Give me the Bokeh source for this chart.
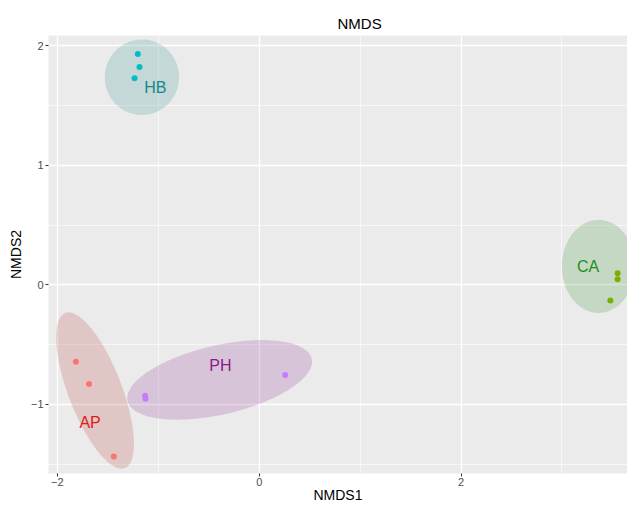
import numpy as np
from bokeh.plotting import figure
from bokeh.models import ColumnDataSource, FixedTicker
from bokeh.embed import file_html
from bokeh.resources import INLINE
from bokeh.core.properties import value

# ---- data (NMDS scores) ----
groups = ["AP", "CA", "HB", "PH"]
point_colors = ["#F8766D", "#7CAE00", "#00BFC4", "#C77CFF"]
label_colors = ["#E01B1B", "#1F8F1F", "#12898A", "#8A1A8C"]

ap_x = [-1.817, -1.686, -1.441]
ap_y = [-0.643, -0.829, -1.435]
ca_x = [3.552, 3.552, 3.480]
ca_y = [0.097, 0.046, -0.132]
hb_x = [-1.203, -1.186, -1.235]
hb_y = [1.930, 1.822, 1.727]
ph_x = [-1.130, -1.127, 0.258]
ph_y = [-0.928, -0.953, -0.754]

# group label positions
label_x = [-1.676, 3.260, -1.029, -0.385]
label_y = [-1.151, 0.150, 1.646, -0.673]

# confidence ellipses: centre and two conjugate half-axes (data units)
ell_cx = [-1.627, 3.363, -1.162, -0.392]
ell_cy = [-0.884, 0.154, 1.736, -0.795]
ell_ux = [0.294, 0.363, 0.368, 0.912]
ell_uy = [-0.649, 0.0, 0.0, 0.178]
ell_vx = [0.249, 0.0, 0.0, 0.080]
ell_vy = [0.077, 0.389, 0.316, -0.281]

x_major = [-2, 0, 2]
x_minor = [-1, 1, 3]
y_major = [-1, 0, 1, 2]
y_minor = [-1.5, -0.5, 0.5, 1.5]

FONT = "Liberation Sans"

p = figure(width=627, height=505, x_range=(-2.088, 3.65), y_range=(-1.578, 2.085),
           output_backend="svg", toolbar_location=None,
           min_border_left=48, min_border_right=0, min_border_top=35, min_border_bottom=0)
p.background_fill_color = "#EBEBEB"
p.border_fill_color = "white"
p.outline_line_color = None

p.title.text = "NMDS"
p.title.text_font = FONT
p.title.text_font_size = "15px"
p.title.text_font_style = "normal"
p.title.text_color = "black"
p.title.align = "left"
p.title.offset = 289
p.title.standoff = 8

# ticks / grid
p.xaxis.ticker = FixedTicker(ticks=x_major, minor_ticks=x_minor)
p.yaxis.ticker = FixedTicker(ticks=y_major, minor_ticks=y_minor)
p.xaxis.major_label_overrides = {t: (str(t).replace("-", "\u2212")) for t in x_major}
p.yaxis.major_label_overrides = {t: (str(t).replace("-", "\u2212")) for t in y_major}

for ax in (p.xaxis, p.yaxis):
    ax.axis_line_color = None
    ax.major_tick_line_color = "#333333"
    ax.major_tick_line_width = 1
    ax.major_tick_in = 0
    ax.major_tick_out = 3
    ax.minor_tick_line_color = None
    ax.major_label_text_font = FONT
    ax.major_label_text_font_size = "11px"
    ax.major_label_text_color = "#4D4D4D"
    ax.major_label_standoff = 1
    ax.axis_label_text_font = FONT
    ax.axis_label_text_font_size = "14px"
    ax.axis_label_text_font_style = "normal"
    ax.axis_label_text_color = "black"
    ax.axis_label_standoff = 0

p.xaxis.major_label_standoff = 0
p.xaxis.axis_label_standoff = -2
p.yaxis.axis_label_standoff = 4
p.xaxis.axis_label = "NMDS1"
p.yaxis.axis_label = "NMDS2"

for g in (p.xgrid, p.ygrid):
    g.grid_line_color = "white"
    g.grid_line_width = 1.3
    g.minor_grid_line_color = "white"
    g.minor_grid_line_width = 0.6

# ellipses
t = np.linspace(0, 2 * np.pi, 200)
exs, eys = [], []
for i in range(len(groups)):
    exs.append(list(ell_cx[i] + ell_ux[i] * np.cos(t) + ell_vx[i] * np.sin(t)))
    eys.append(list(ell_cy[i] + ell_uy[i] * np.cos(t) + ell_vy[i] * np.sin(t)))
ell_fill = ["#B83030", "#2A8C2A", "#2A8A8C", "#8B2A8B"]
p.patches(xs=exs, ys=eys, fill_color=ell_fill, fill_alpha=0.2, line_color=None)

# points
xs_all = [ap_x, ca_x, hb_x, ph_x]
ys_all = [ap_y, ca_y, hb_y, ph_y]
px, py, pc = [], [], []
for i in range(len(groups)):
    px += xs_all[i]
    py += ys_all[i]
    pc += [point_colors[i]] * len(xs_all[i])
p.scatter(x=px, y=py, size=6, fill_color=pc, line_color=None)

# labels
src = ColumnDataSource(dict(x=label_x, y=label_y, text=groups, color=label_colors))
p.text(x="x", y="y", text="text", source=src, text_color="color",
       text_align="center", text_baseline="middle", text_font=value(FONT),
       text_font_size="16px")

open("out.html", "w").write(file_html(p, INLINE))
